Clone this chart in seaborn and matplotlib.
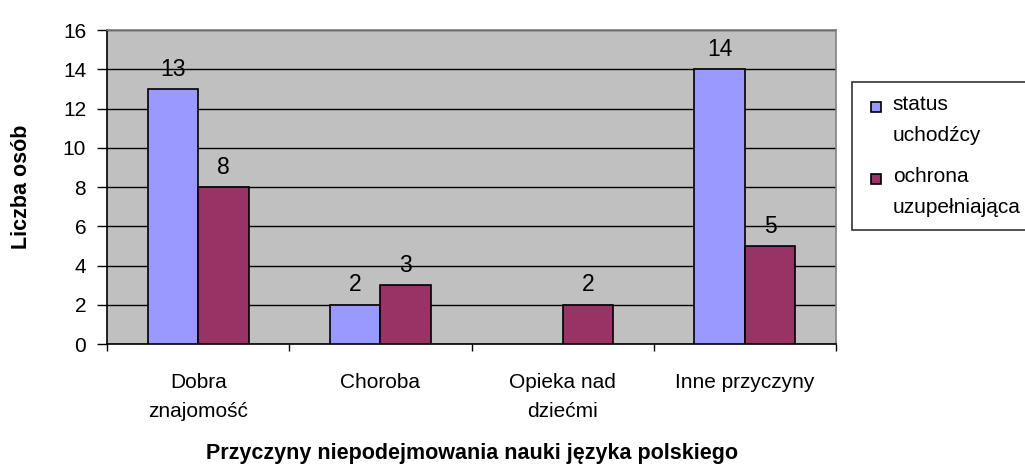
import pandas as pd
import numpy as np
import matplotlib.pyplot as plt
import seaborn as sns
from matplotlib.patches import Rectangle
from matplotlib.legend_handler import HandlerPatch

categories = ['Dobra\nznajomość', 'Choroba', 'Opieka nad\ndziećmi', 'Inne przyczyny']
series_names = ['status\nuchodźcy', 'ochrona\nuzupełniająca']
status_values = [13, 2, 0, 14]
ochrona_values = [8, 3, 2, 5]

df = pd.DataFrame({
    'kategoria': categories * 2,
    'seria': [series_names[0]] * 4 + [series_names[1]] * 4,
    'liczba': status_values + ochrona_values,
})


class FirstLineHandler(HandlerPatch):
    """Small square marker aligned with the first line of a two-line label"""
    def create_artists(self, legend, orig_handle, xdescent, ydescent,
                       width, height, fontsize, trans):
        s = 0.5 * fontsize
        y = -ydescent + height / 2 - s / 2 + 0.63 * fontsize
        p = Rectangle((width - xdescent - s, y), s, s)
        self.update_prop(p, orig_handle, legend)
        p.set_transform(trans)
        return [p]


sns.set_style('white')
plt.rcParams['font.family'] = ['Liberation Sans', 'DejaVu Sans']
plt.rcParams['text.color'] = 'black'
plt.rcParams['axes.labelcolor'] = 'black'
plt.rcParams['xtick.color'] = 'black'
plt.rcParams['ytick.color'] = 'black'

fig = plt.figure(figsize=(10.25, 4.69), dpi=100)
ax = fig.add_axes([0.1044, 0.2665, 0.7112, 0.6695])
ax.set_facecolor('#C0C0C0')

sns.barplot(data=df, x='kategoria', y='liczba', hue='seria', order=categories,
            hue_order=series_names, palette=['#9999FF', '#993366'], saturation=1,
            width=0.555, edgecolor='black', linewidth=1.2, ax=ax, zorder=3)

# hide zero-height bar, label the rest
for cont in ax.containers:
    for p, v in zip(cont.patches, cont.datavalues):
        if v == 0:
            p.set_visible(False)
    labels = [f'{int(v)}' if v > 0 else '' for v in cont.datavalues]
    ax.bar_label(cont, labels=labels, padding=6, fontsize=16.5)

ax.set_ylim(0, 16)
ax.set_yticks(np.arange(0, 17, 2))
ax.yaxis.grid(True, color='black', linewidth=1)
ax.set_axisbelow(True)
ax.set_xlim(-0.5, 3.5)

# x ticks at category boundaries, labels centred
ax.set_xticks(np.arange(-0.5, 4, 1))
ax.set_xticklabels([])
ax.set_xticks(np.arange(4), minor=True)
ax.set_xticklabels(categories, minor=True, fontsize=15, linespacing=1.65)
ax.tick_params(axis='x', which='major', length=5, width=1, color='black', direction='out', bottom=True)
ax.tick_params(axis='x', which='minor', length=0, pad=21)
ax.tick_params(axis='y', length=7, width=1, color='black', direction='out', left=True,
               labelsize=15, pad=8)

for s in ['left', 'bottom']:
    ax.spines[s].set_color('black')
    ax.spines[s].set_linewidth(1.2)
for s in ['top', 'right']:
    ax.spines[s].set_color('#808080')
    ax.spines[s].set_linewidth(1.2)

ax.set_xlabel('Przyczyny niepodejmowania nauki języka polskiego', fontsize=15.5,
              fontweight='bold', labelpad=16)
ax.set_ylabel('Liczba osób', fontsize=15.5, fontweight='bold', labelpad=22)

handles, labels = ax.get_legend_handles_labels()
ax.get_legend().remove()
leg = ax.legend(handles, labels, loc='upper left', bbox_to_anchor=(1.022, 0.834),
                fontsize=15, frameon=True, fancybox=False, edgecolor='black',
                facecolor='white', handler_map={Rectangle: FirstLineHandler()},
                handlelength=0.8, handleheight=0.7, handletextpad=0.55,
                labelspacing=1.08, borderpad=0.6, borderaxespad=0)
leg.get_frame().set_linewidth(1.2)
for t in leg.get_texts():
    t.set_linespacing(1.8)

fig.savefig('out.png', dpi=100)
